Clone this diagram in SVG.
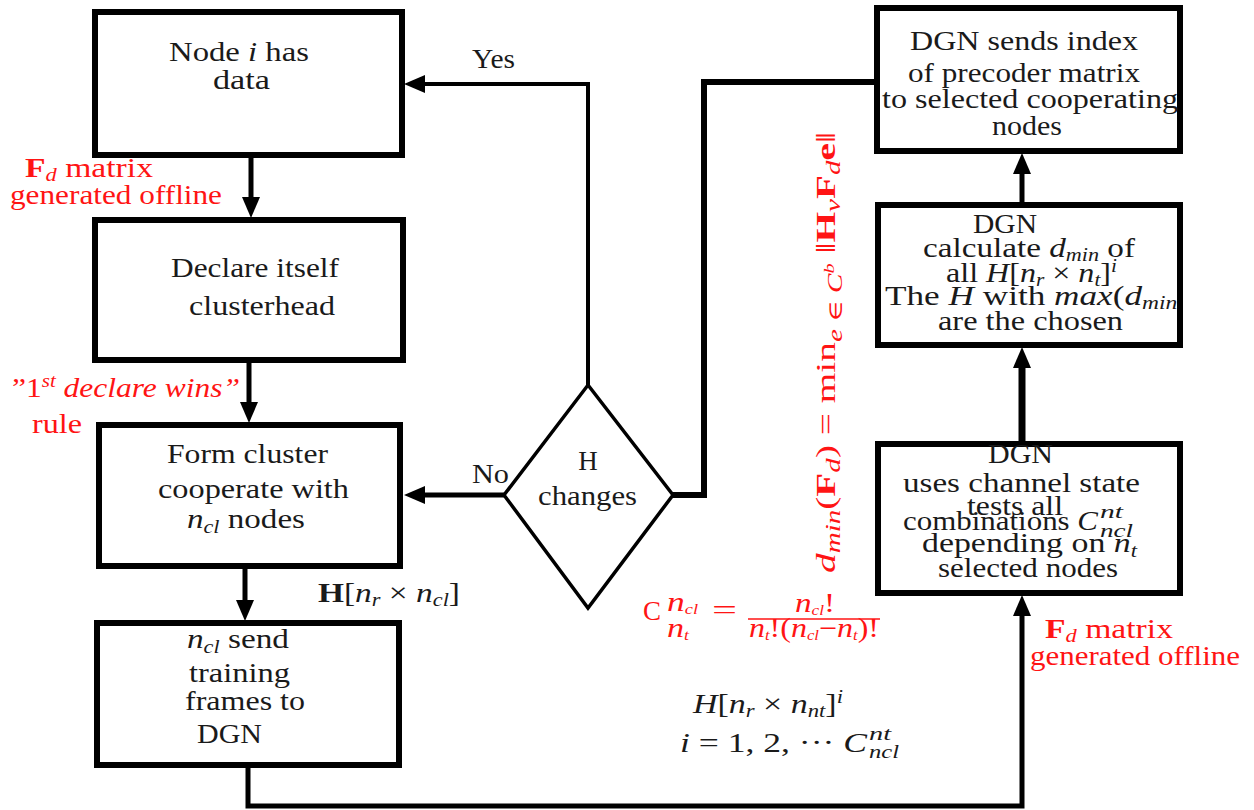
<svg xmlns="http://www.w3.org/2000/svg" width="1254" height="810" viewBox="0 0 1254 810">
<style>
text{font-family:"Liberation Serif","DejaVu Serif",serif;font-size:27px;fill:#1a1a1a}
.r{fill:#ff1414}
.i{font-style:italic}
.b{font-weight:bold}
.s{font-size:18px}
.box{fill:#fff;stroke:#000;stroke-width:6}
.dia{fill:#fff;stroke:#000;stroke-width:3.5}
.c{fill:none;stroke:#000;stroke-linejoin:miter}
</style>
<defs>
<marker id="ah" markerUnits="userSpaceOnUse" markerWidth="22" markerHeight="18" refX="10" refY="9" orient="auto">
<path d="M0,0 L21,9 L0,18 z" fill="#000"/>
</marker>
<clipPath id="r2clip"><rect x="878" y="205" width="300" height="140"/></clipPath>
</defs>
<rect width="1254" height="810" fill="#fff"/>

<g id="connectors">
<path class="c" stroke-width="5" d="M251,158 V207" marker-end="url(#ah)"/>
<path class="c" stroke-width="5" d="M249,363 V412" marker-end="url(#ah)"/>
<path class="c" stroke-width="5" d="M245,569 V610" marker-end="url(#ah)"/>
<path class="c" stroke-width="4" d="M588,385 V84 H415" marker-end="url(#ah)"/>
<path class="c" stroke-width="5" d="M504,495 H415" marker-end="url(#ah)"/>
<path class="c" stroke-width="6" d="M673,495 H704 V82 H877"/>
<path class="c" stroke-width="5" d="M248,768 V806 H1022 V606" marker-end="url(#ah)"/>
<path class="c" stroke-width="7" d="M1022,441 V358" marker-end="url(#ah)"/>
<path class="c" stroke-width="5" d="M1022,202 V164" marker-end="url(#ah)"/>
<text x="472" y="68" textLength="43" lengthAdjust="spacingAndGlyphs">Yes</text>
<text x="472" y="483" textLength="37" lengthAdjust="spacingAndGlyphs">No</text>
</g>

<g id="node-data">
<rect class="box" x="95" y="12" width="307" height="143"/>
<text x="169" y="61" textLength="140" lengthAdjust="spacingAndGlyphs">Node <tspan class="i">i</tspan> has</text>
<text x="213" y="89" textLength="57" lengthAdjust="spacingAndGlyphs">data</text>
</g>

<g id="node-declare">
<rect class="box" x="95" y="220" width="308" height="140"/>
<text x="171" y="277" textLength="168" lengthAdjust="spacingAndGlyphs">Declare itself</text>
<text x="189" y="315" textLength="146" lengthAdjust="spacingAndGlyphs">clusterhead</text>
</g>

<g id="node-form">
<rect class="box" x="99" y="425" width="301" height="141"/>
<text x="167" y="463" textLength="161" lengthAdjust="spacingAndGlyphs">Form cluster</text>
<text x="158" y="498" textLength="191" lengthAdjust="spacingAndGlyphs">cooperate with</text>
<text x="187" y="528" textLength="118" lengthAdjust="spacingAndGlyphs"><tspan class="i">n</tspan><tspan class="i s" dy="5">cl</tspan><tspan dy="-5"> nodes</tspan></text>
</g>

<g id="node-send">
<rect class="box" x="97" y="623" width="302" height="142"/>
<text x="187" y="648" textLength="102" lengthAdjust="spacingAndGlyphs"><tspan class="i">n</tspan><tspan class="i s" dy="5">cl</tspan><tspan dy="-5"> send</tspan></text>
<text x="189" y="682" textLength="101" lengthAdjust="spacingAndGlyphs">training</text>
<text x="185" y="710" textLength="120" lengthAdjust="spacingAndGlyphs">frames to</text>
<text x="197" y="743" textLength="65" lengthAdjust="spacingAndGlyphs">DGN</text>
</g>

<g id="node-hchanges">
<polygon class="dia" points="588,385 673,495 588,608 504,495"/>
<text x="588" y="470" text-anchor="middle">H</text>
<text x="538" y="505" textLength="99" lengthAdjust="spacingAndGlyphs">changes</text>
</g>

<g id="node-sendindex">
<rect class="box" x="877" y="8" width="303" height="143"/>
<text x="910" y="50" textLength="228" lengthAdjust="spacingAndGlyphs">DGN sends index</text>
<text x="908" y="82" textLength="232" lengthAdjust="spacingAndGlyphs">of precoder matrix</text>
<text x="882" y="108" textLength="296" lengthAdjust="spacingAndGlyphs">to selected cooperating</text>
<text x="992" y="135" textLength="70" lengthAdjust="spacingAndGlyphs">nodes</text>
</g>

<g id="node-calculate">
<rect class="box" x="878" y="205" width="302" height="140"/>
<text x="973" y="233" textLength="64" lengthAdjust="spacingAndGlyphs">DGN</text>
<text x="923" y="257" textLength="212" lengthAdjust="spacingAndGlyphs">calculate <tspan class="i">d</tspan><tspan class="i s" dy="4">min</tspan><tspan dy="-4"> of</tspan></text>
<text x="946" y="282" textLength="171" lengthAdjust="spacingAndGlyphs">all <tspan class="i">H</tspan>[<tspan class="i">n</tspan><tspan class="i s" dy="4">r</tspan><tspan dy="-4"> × </tspan><tspan class="i">n</tspan><tspan class="i s" dy="4">t</tspan><tspan dy="-4">]</tspan><tspan class="i s" dy="-10">i</tspan></text>
<g clip-path="url(#r2clip)">
<text x="885" y="305" textLength="304" lengthAdjust="spacingAndGlyphs">The <tspan class="i">H</tspan> with <tspan class="i">max</tspan>(<tspan class="i">d</tspan><tspan class="i s" dy="4">min</tspan><tspan dy="-4">)</tspan></text>
</g>
<text x="938" y="330" textLength="185" lengthAdjust="spacingAndGlyphs">are the chosen</text>
</g>

<g id="node-channel">
<rect class="box" x="878" y="444" width="302" height="149"/>
<text x="988" y="463" textLength="65" lengthAdjust="spacingAndGlyphs">DGN</text>
<text x="903" y="492" textLength="237" lengthAdjust="spacingAndGlyphs">uses channel state</text>
<text x="967" y="515" textLength="96" lengthAdjust="spacingAndGlyphs">tests all</text>
<text x="903" y="530" textLength="195" lengthAdjust="spacingAndGlyphs">combinations <tspan class="i">C</tspan></text>
<text x="1100" y="518" class="i s" textLength="23" lengthAdjust="spacingAndGlyphs">nt</text>
<text x="1100" y="537" class="i s" textLength="33" lengthAdjust="spacingAndGlyphs">ncl</text>
<text x="922" y="552" textLength="215" lengthAdjust="spacingAndGlyphs">depending on <tspan class="i">n</tspan><tspan class="i s" dy="5">t</tspan></text>
<text x="938" y="577" textLength="180" lengthAdjust="spacingAndGlyphs">selected nodes</text>
</g>

<g id="annotations">
<text class="r" x="25" y="177" textLength="128" lengthAdjust="spacingAndGlyphs"><tspan class="b r">F</tspan><tspan class="i s r" dy="4">d</tspan><tspan class="r" dy="-4"> matrix</tspan></text>
<text class="r" x="10" y="204" textLength="212" lengthAdjust="spacingAndGlyphs">generated offline</text>
<text class="r" x="12" y="397" textLength="228" lengthAdjust="spacingAndGlyphs">”1<tspan class="i s r" dy="-10">st</tspan><tspan class="i r" dy="10"> declare wins”</tspan></text>
<text class="r" x="32" y="433" textLength="50" lengthAdjust="spacingAndGlyphs">rule</text>

<text class="r" x="1045" y="638" textLength="128" lengthAdjust="spacingAndGlyphs"><tspan class="b r">F</tspan><tspan class="i s r" dy="4">d</tspan><tspan class="r" dy="-4"> matrix</tspan></text>
<text class="r" x="1030" y="665" textLength="210" lengthAdjust="spacingAndGlyphs">generated offline</text>

<text x="318" y="602" textLength="142" lengthAdjust="spacingAndGlyphs"><tspan class="b">H</tspan>[<tspan class="i">n</tspan><tspan class="i s" dy="4">r</tspan><tspan dy="-4"> × </tspan><tspan class="i">n</tspan><tspan class="i s" dy="4">cl</tspan><tspan dy="-4">]</tspan></text>

<text class="r" x="643" y="620" font-size="31">C</text>
<text class="r i" x="667" y="611" font-size="20" textLength="31" lengthAdjust="spacingAndGlyphs">n<tspan class="r" font-size="14" dy="3">cl</tspan></text>
<text class="r i" x="667" y="637" font-size="20" textLength="22" lengthAdjust="spacingAndGlyphs">n<tspan class="r" font-size="14" dy="3">t</tspan></text>
<text class="r" x="712" y="619" font-size="28" textLength="25" lengthAdjust="spacingAndGlyphs">=</text>
<text class="r" x="795" y="612" font-size="20" textLength="40" lengthAdjust="spacingAndGlyphs"><tspan class="i r">n</tspan><tspan class="i r" font-size="14" dy="3">cl</tspan><tspan class="r" dy="-3">!</tspan></text>
<line x1="748" y1="619" x2="880" y2="619" stroke="#ff1414" stroke-width="1.6"/>
<text class="r" x="749" y="637" font-size="20" textLength="130" lengthAdjust="spacingAndGlyphs"><tspan class="i r">n</tspan><tspan class="i r" font-size="14" dy="3">t</tspan><tspan class="r" dy="-3">!(</tspan><tspan class="i r">n</tspan><tspan class="i r" font-size="14" dy="3">cl</tspan><tspan class="r" dy="-3">−</tspan><tspan class="i r">n</tspan><tspan class="i r" font-size="14" dy="3">t</tspan><tspan class="r" dy="-3">)!</tspan></text>

<text x="693" y="713" textLength="150" lengthAdjust="spacingAndGlyphs"><tspan class="i">H</tspan>[<tspan class="i">n</tspan><tspan class="i s" dy="4">r</tspan><tspan dy="-4"> × </tspan><tspan class="i">n</tspan><tspan class="i s" dy="4">nt</tspan><tspan dy="-4">]</tspan><tspan class="i s" dy="-10">i</tspan></text>
<text x="680" y="752" textLength="187" lengthAdjust="spacingAndGlyphs"><tspan class="i">i</tspan> = 1, 2, ··· <tspan class="i">C</tspan></text>
<text x="869" y="740" class="i s" textLength="22" lengthAdjust="spacingAndGlyphs">nt</text>
<text x="869" y="758" class="i s" textLength="30" lengthAdjust="spacingAndGlyphs">ncl</text>

<text class="r" transform="translate(835,573) rotate(-90)" font-size="31" textLength="441" lengthAdjust="spacingAndGlyphs"><tspan class="i r">d</tspan><tspan class="i r" font-size="20" dy="5">min</tspan><tspan class="r" dy="-5">(</tspan><tspan class="b r">F</tspan><tspan class="i r" font-size="20" dy="5">d</tspan><tspan class="r" dy="-5">) = min</tspan><tspan class="i r" font-size="20" dy="7">e</tspan><tspan class="r" font-size="20"> ∈ </tspan><tspan class="i r" font-size="20">C</tspan><tspan class="i r" font-size="14" dy="-8">b</tspan><tspan class="r" dy="1"> ‖</tspan><tspan class="b r">H</tspan><tspan class="i r" font-size="20" dy="5">v</tspan><tspan class="b r" dy="-5">F</tspan><tspan class="i r" font-size="20" dy="5">d</tspan><tspan class="b r" dy="-5">e</tspan><tspan class="r">‖</tspan></text>
</g>
</svg>
